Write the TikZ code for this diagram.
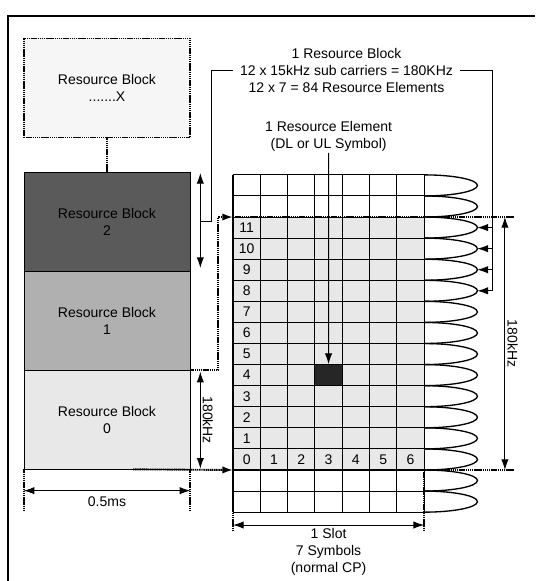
\documentclass[tikz,border=0pt]{standalone}
\usepackage{fontspec}
\setmainfont{Liberation Sans}
\usetikzlibrary{arrows.meta, positioning, calc}
\definecolor{rbdark}{HTML}{5A5A5A}
\definecolor{rbmid}{HTML}{B0B0B0}
\definecolor{rblight}{HTML}{E8E8E8}
\definecolor{rbfaint}{HTML}{F6F6F6}
\definecolor{recell}{HTML}{262626}

\begin{document}
\begin{tikzpicture}[x=0.75pt, y=-0.75pt, >={Latex[length=8pt,width=5.5pt]}, line width=0.7pt,
    font=\fontsize{10.5}{12.75}\selectfont,
    block/.style={draw, line width=0.5pt, minimum width=124.5pt, minimum height=74.25pt, align=center, inner sep=0pt},
    dotline/.style={line width=1.4pt, dash pattern=on 1.1pt off 0.5pt},
    lbl/.style={align=center, inner sep=1pt},
    vlbl/.style={rotate=-90, anchor=south, inner sep=1.5pt}]
  \useasboundingbox (0,0) rectangle (535,581);
  \draw[line width=1.5pt] (8,581) -- (8,16) -- (535,16);

  % resource blocks in frequency
  \node[block, dotline, fill=rbfaint] (rbX) at (107,88) {Resource Block\\.......X};
  \node[block, fill=rbdark] (rb2) at (107,221.5) {Resource Block\\2};
  \node[block, fill=rbmid] (rb1) at (107,320.5) {Resource Block\\1};
  \node[block, fill=rblight] (rb0) at (107,419.5) {Resource Block\\0};
  \draw[dotline] (rbX) -- (rb2);

  % one slot of resource elements
  \begin{scope}[shift={(233,470)}, x=20.475pt, y=15.81pt]
    \fill[rblight] (0,0) rectangle (7,12);
    \foreach \c in {0,...,7} \draw[line width=0.8pt] (\c,-2) -- (\c,14);
    \foreach \r in {-2,...,14} \draw[line width=0.8pt] (0,\r) -- (7,\r);
    \foreach \r in {-2,...,13}
      \draw[line width=1pt] (7,\r+1) arc[start angle=90, end angle=-90, x radius=40pt, y radius=7.9pt];
    \foreach \r in {0,...,11} \node at (0.5,\r+0.5) {\r};
    \foreach \c in {1,...,6} \node at (\c+0.5,0.5) {\c};
    \node[draw, fill=recell, minimum width=20.475pt, minimum height=15.81pt, inner sep=0pt] (re) at (3.5,4.5) {};
    \coordinate (g0) at (0,0);
    \coordinate (g12) at (0,12);
    \coordinate (e0) at (10.29,0);
    \coordinate (e12) at (10.29,12);
    \coordinate (a0) at (9.96,0);
    \coordinate (a12) at (9.96,12);
    \coordinate (sl) at (0,-2.61);
    \coordinate (sr) at (7,-2.61);
    \foreach \r in {8,...,11} {
      \coordinate (tip\r) at (8.95,\r+0.5);
      \coordinate (brk\r) at (9.49,\r+0.5);
    }
    \draw[dotline] (0,0) -- (0,-2.84);
    \draw[dotline] (7,0) -- (7,-2.84);
  \end{scope}

  \node[lbl, inner sep=5pt] (rblabel) at (346.5,70) {1 Resource Block\\12 x 15kHz sub carriers = 180KHz\\12 x 7 = 84 Resource Elements};
  \node[lbl, anchor=south] (relabel) at (328.6,153) {1 Resource Element\\(DL or UL Symbol)};
  \draw[->] (relabel) -- (re);

  \draw[<->] ([xshift=7.5pt,yshift=-1pt]rb2.north east) -- ([xshift=7.5pt,yshift=2.5pt]rb2.south east);
  \draw ([xshift=7.5pt]rb2.east) -- ++(11,0) |- (rblabel.west);
  \draw (rblabel.east) -| (brk8);
  \foreach \r in {8,...,11} \draw[->] (brk\r) -- (tip\r);

  \draw[dotline] (g12) -- (e12);
  \draw[dotline] (g0) -- (e0);
  \draw[dotline, ->] (rb1.south east) -- ++(28,0) |- (g12);
  \draw[dotline, ->] ([xshift=19.5pt]rb0.south) -- (g0);

  \draw[<->] ([xshift=7.5pt,yshift=-1.5pt]rb0.north east) -- node[vlbl] {180kHz} ([xshift=7.5pt,yshift=0.5pt]rb0.south east);
  \draw[<->] (a12) -- node[vlbl] {180kHz} (a0);

  \draw[dotline] (rb0.south west) -- ++(0,41);
  \draw[dotline] (rb0.south east) -- ++(0,41);
  \draw[<->] ([yshift=-16pt]rb0.south west) -- node[below=1pt] {0.5ms} ([yshift=-16pt]rb0.south east);
  \draw[<->] (sl) -- node[below, lbl, inner sep=2pt] {1 Slot\\7 Symbols\\(normal CP)} (sr);
\end{tikzpicture}
\end{document}
